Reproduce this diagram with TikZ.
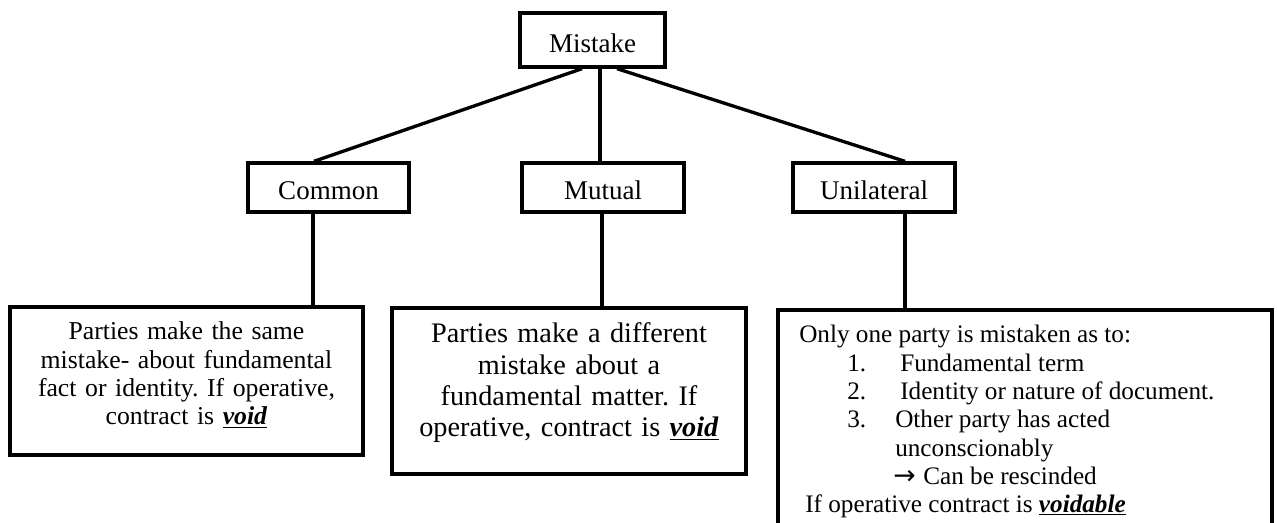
\documentclass[tikz,border=0pt]{standalone}
\usepackage{fontspec}
\setmainfont{Liberation Serif}
\newfontfamily\arrowfont{DejaVu Sans}
% one pixel of the drawing grid
\newdimen\pxu \pxu=0.75pt
% bold italic underlined verdict
\newcommand\verdict[1]{\underline{\textbf{\textit{#1}}}}
\frenchspacing
\begin{document}
\begin{tikzpicture}[x=0.75pt,y=-0.75pt,
  box/.style={draw=black, line width=2.5pt, fill=white, rectangle, inner sep=0pt},
  head/.style={box, font=\fontsize{20.25}{24}\selectfont, text height=18.75pt, text depth=0pt},
  link/.style={line width=2.5pt},
  lefttext/.style={font=\fontsize{19.3}{21.2}\selectfont, align=center, text width=340\pxu, inner sep=0pt, anchor=base},
  midtext/.style={font=\fontsize{21.2}{23.5}\selectfont, align=center, text width=340\pxu, inner sep=0pt, anchor=base},
  ritem/.style={font=\fontsize{18.9}{21.2}\selectfont, anchor=base west, inner sep=0pt}
]
\clip (0,0) rectangle (1277,523);

% category boxes
\node[head, minimum width=145\pxu, minimum height=54\pxu] (mistake) at (592.5,40) {Mistake};
\node[head, minimum width=161\pxu, minimum height=49\pxu] (common) at (328.5,187.5) {Common};
\node[head, minimum width=162\pxu, minimum height=49\pxu] (mutual) at (603,187.5) {Mutual};
\node[head, minimum width=162\pxu, minimum height=49\pxu] (unilateral) at (874,187.5) {Unilateral};

% description boxes
\node[box, minimum width=353\pxu, minimum height=148\pxu] (commonD) at (186.5,381) {};
\node[box, minimum width=354\pxu, minimum height=166\pxu] (mutualD) at (569,391) {};
\node[box, minimum width=494\pxu, minimum height=235\pxu] (uniD) at (1025,427.5) {};

% branches
\draw[link] ([xshift=-10.5\pxu]mistake.south) -- ([xshift=-14.5\pxu]common.north);
\draw[link] ([xshift=7.5\pxu]mistake.south) -- ([xshift=7.5\pxu]mistake.south |- mutual.north);
\draw[link] ([xshift=24.5\pxu]mistake.south) -- ([xshift=31\pxu]unilateral.north);
\draw[link] ([xshift=-15.5\pxu]common.south) -- ([xshift=-15.5\pxu]common.south |- commonD.north);
\draw[link] ([xshift=-1\pxu]mutual.south) -- ([xshift=-1\pxu]mutual.south |- mutualD.north);
\draw[link] ([xshift=31\pxu]unilateral.south) -- ([xshift=31\pxu]unilateral.south |- uniD.north);

% common mistake
\node[lefttext] (commonTxt) at (186.5,340) {Parties make the same\\mistake- about fundamental\\fact or identity. If operative,\\contract is \verdict{void}};

% mutual mistake
\node[midtext] (mutualTxt) at (569,343) {Parties make a different\\mistake about a\\fundamental matter. If\\operative, contract is \verdict{void}};

% unilateral mistake
\node[ritem] (uIntro) at (799,343) {Only one party is mistaken as to:};
\node[ritem] (uN1) at (847,371.7) {1.};
\node[ritem] (uT1) at (900,371.7) {Fundamental term};
\node[ritem] (uN2) at (847,400) {2.};
\node[ritem] (uT2) at (900,400) {Identity or nature of document.};
\node[ritem] (uN3) at (847,428) {3.};
\node[ritem] (uT3) at (895,428) {Other party has acted};
\node[ritem] (uT3b) at (895,456) {unconscionably};
\node[ritem, font=\arrowfont\fontsize{20}{24}\selectfont] (uArrow) at (893,484) {→};
\node[ritem] (uRes) at (923,484) {Can be rescinded};
\node[ritem] (uEnd) at (805,512) {If operative contract is \verdict{voidable}};
\end{tikzpicture}
\end{document}
